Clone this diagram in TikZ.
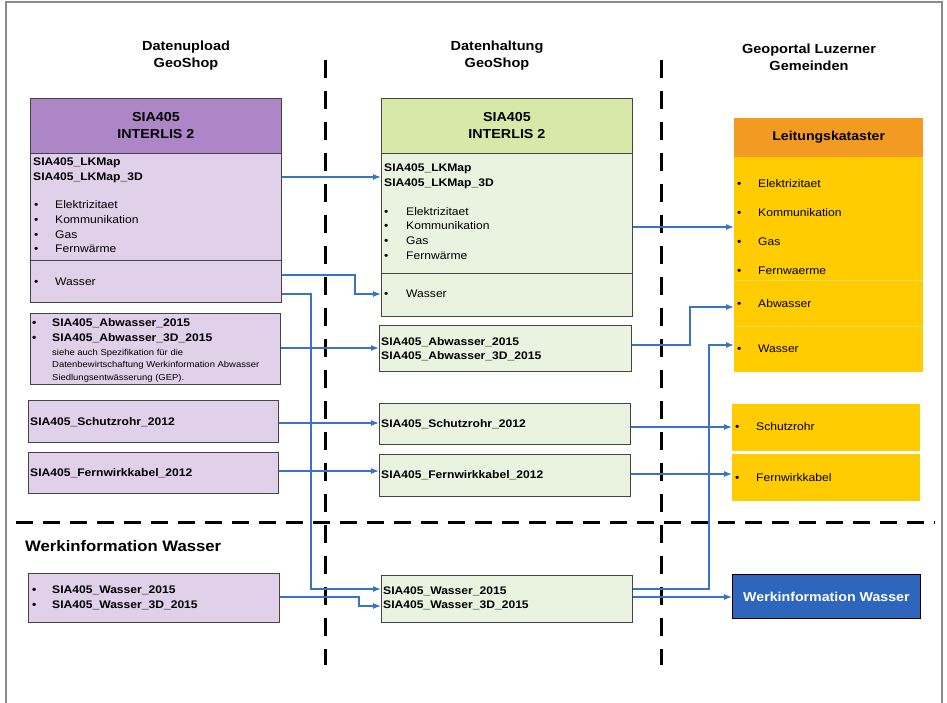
\documentclass[tikz,border=0pt]{standalone}
\usepackage{fontspec}
\setmainfont{Liberation Sans}[FakeStretch=1.1]
\usetikzlibrary{arrows.meta}
\definecolor{phead}{HTML}{AC86C6}
\definecolor{pbody}{HTML}{E0D0EA}
\definecolor{ghead}{HTML}{D8E8A8}
\definecolor{gbody}{HTML}{EAF2E0}
\definecolor{ohead}{HTML}{F39A22}
\definecolor{ybody}{HTML}{FFCC00}
\definecolor{ydiv}{HTML}{F8DA5A}
\definecolor{wblue}{HTML}{2E66BE}
\definecolor{arrblue}{HTML}{3A72C8}
\definecolor{bord}{HTML}{454545}
\definecolor{frame}{HTML}{8A8A8A}
\begin{document}
\begin{tikzpicture}[x=1pt,y=-1pt,
  box/.style={draw=bord, line width=0.8pt, inner sep=0pt, anchor=north west},
  ybox/.style={fill=ybody, inner sep=0pt, anchor=north west},
  t/.style={anchor=west, inner sep=0pt, text height=8pt, text depth=0pt},
  bi/.style={t, font=\fontsize{11}{13}\selectfont\bfseries},
  ri/.style={t, font=\fontsize{11}{13}\selectfont},
  sm/.style={t, font=\fontsize{8.6}{11}\selectfont},
  colhead/.style={align=center, inner sep=0pt, font=\fontsize{13.2}{17}\selectfont\bfseries},
  boxhead/.style={align=center, inner sep=0pt, font=\fontsize{13}{17}\selectfont\bfseries},
  arr/.style={draw=arrblue, line width=1.2pt, -{Latex[length=8pt,width=6pt]}},
  sep/.style={line width=3pt, black, dash pattern=on 18pt off 13pt},
  hsep/.style={line width=3pt, black, dash pattern=on 17pt off 10pt}]
\useasboundingbox (0,0) rectangle (947,703);
% frame
\draw[frame, line width=1.2pt] (6,703) -- (6,2) -- (942,2) -- (942,703);

% column headers
\node[colhead] (h1) at (186,56) {Datenupload\\GeoShop};
\node[colhead] (h2) at (497,56) {Datenhaltung\\GeoShop};
\node[colhead] (h3) at (809,57) {Geoportal Luzerner\\Gemeinden};

% ---------- left big box
\node[box, fill=phead, minimum width=251pt, minimum height=55pt] (lhead) at (30,98) {};
\node[box, fill=pbody, minimum width=251pt, minimum height=107pt] (lbody) at (30,153) {};
\node[box, fill=pbody, minimum width=251pt, minimum height=42pt] (lwas) at (30,260) {};
\node[boxhead] (lht) at (lhead.center) {SIA405\\INTERLIS 2};
\node[bi] (l1) at (33,162) {SIA405\_LKMap};
\node[bi] (l2) at (33,177) {SIA405\_LKMap\_3D};
\node[ri] (lb1) at (34,205) {•}; \node[ri] (lt1) at (55,205) {Elektrizitaet};
\node[ri] (lb2) at (34,220) {•}; \node[ri] (lt2) at (55,220) {Kommunikation};
\node[ri] (lb3) at (34,235) {•}; \node[ri] (lt3) at (55,235) {Gas};
\node[ri] (lb4) at (34,249) {•}; \node[ri] (lt4) at (55,249) {Fernwärme};
\node[ri] (lb5) at (34,281) {•}; \node[ri] (lt5) at (55,281) {Wasser};

% ---------- green big box
\node[box, fill=ghead, minimum width=251pt, minimum height=55pt] (ghd) at (381,98) {};
\node[box, fill=gbody, minimum width=251pt, minimum height=120pt] (gbd) at (381,153) {};
\node[box, fill=gbody, minimum width=251pt, minimum height=43pt] (gwas) at (381,273) {};
\node[boxhead] (ght) at (ghd.center) {SIA405\\INTERLIS 2};
\node[bi] (g1) at (384,168) {SIA405\_LKMap};
\node[bi] (g2) at (384,183) {SIA405\_LKMap\_3D};
\node[ri] (gb1) at (384,212) {•}; \node[ri] (gt1) at (406,212) {Elektrizitaet};
\node[ri] (gb2) at (384,226) {•}; \node[ri] (gt2) at (406,226) {Kommunikation};
\node[ri] (gb3) at (384,241) {•}; \node[ri] (gt3) at (406,241) {Gas};
\node[ri] (gb4) at (384,256) {•}; \node[ri] (gt4) at (406,256) {Fernwärme};
\node[ri] (gb5) at (384,294) {•}; \node[ri] (gt5) at (406,294) {Wasser};

% ---------- orange / yellow
\node[ybox, fill=ohead, minimum width=189pt, minimum height=39pt] (ohd) at (734,118) {};
\node[ybox, minimum width=189pt, minimum height=215pt] (obody) at (734,157) {};
\draw[ydiv, line width=0.8pt] (obody.west |- 0,280) -- (obody.east |- 0,280);
\draw[ydiv, line width=0.8pt] (obody.west |- 0,326) -- (obody.east |- 0,326);
\node[boxhead, font=\fontsize{12.8}{15}\selectfont\bfseries] (oht) at (ohd.center) {Leitungskataster};
\node[ri] (ob1) at (737,184) {•}; \node[ri] (ot1) at (758,184) {Elektrizitaet};
\node[ri] (ob2) at (737,213) {•}; \node[ri] (ot2) at (758,213) {Kommunikation};
\node[ri] (ob3) at (737,242) {•}; \node[ri] (ot3) at (758,242) {Gas};
\node[ri] (ob4) at (737,270) {•}; \node[ri] (ot4) at (758,270) {Fernwaerme};
\node[ri] (ob5) at (737,303) {•}; \node[ri] (ot5) at (758,303) {Abwasser};
\node[ri] (ob6) at (737,348) {•}; \node[ri] (ot6) at (758,348) {Wasser};
\node[ybox, minimum width=188pt, minimum height=47pt] (osch) at (732,404) {};
\node[ri] (ob7) at (735,426) {•}; \node[ri] (ot7) at (756,426) {Schutzrohr};
\node[ybox, minimum width=188pt, minimum height=47pt] (ofern) at (732,454) {};
\node[ri] (ob8) at (735,477) {•}; \node[ri] (ot8) at (756,477) {Fernwirkkabel};
\node[box, draw=black, fill=wblue, minimum width=188pt, minimum height=44pt] (blue) at (732,574) {};
\node[text=white, inner sep=0pt, font=\fontsize{12.9}{15}\selectfont\bfseries] (bluet) at (blue.center) {Werkinformation Wasser};

% ---------- left small boxes
\node[box, fill=pbody, minimum width=250pt, minimum height=71pt] (labw) at (30,313) {};
\node[bi] (la0) at (32,322) {•}; \node[bi] (la1) at (52,322) {SIA405\_Abwasser\_2015};
\node[bi] (la2b) at (32,337) {•}; \node[bi] (la2) at (52,337) {SIA405\_Abwasser\_3D\_2015};
\node[sm] (ls1) at (52,351) {siehe auch Spezifikation für die};
\node[sm] (ls2) at (52,363) {Datenbewirtschaftung Werkinformation Abwasser};
\node[sm] (ls3) at (52,376) {Siedlungsentwässerung (GEP).};
\node[box, fill=pbody, minimum width=250pt, minimum height=42pt] (lsch) at (28,400) {};
\node[bi] (lsct) at (30,421) {SIA405\_Schutzrohr\_2012};
\node[box, fill=pbody, minimum width=250pt, minimum height=41pt] (lfern) at (28,452) {};
\node[bi] (lfet) at (30,472) {SIA405\_Fernwirkkabel\_2012};

% ---------- green small boxes
\node[box, fill=gbody, minimum width=252pt, minimum height=46pt] (gabw) at (379,325) {};
\node[bi] (ga1) at (381,341) {SIA405\_Abwasser\_2015};
\node[bi] (ga2) at (381,355) {SIA405\_Abwasser\_3D\_2015};
\node[box, fill=gbody, minimum width=251pt, minimum height=41pt] (gsch) at (379,403) {};
\node[bi] (gsct) at (381,423) {SIA405\_Schutzrohr\_2012};
\node[box, fill=gbody, minimum width=251pt, minimum height=42pt] (gfern) at (379,454) {};
\node[bi] (gfet) at (381,474) {SIA405\_Fernwirkkabel\_2012};

% ---------- Werkinformation Wasser section
\node[t, font=\fontsize{15.2}{18}\selectfont\bfseries, text height=11pt] (wtitle) at (25,546) {Werkinformation Wasser};
\node[box, fill=pbody, minimum width=251pt, minimum height=49pt] (lwass) at (28,573) {};
\node[bi] (lw0) at (32,589) {•}; \node[bi] (lw1) at (52,589) {SIA405\_Wasser\_2015};
\node[bi] (lw2b) at (32,604) {•}; \node[bi] (lw2) at (52,604) {SIA405\_Wasser\_3D\_2015};
\node[box, fill=gbody, minimum width=251pt, minimum height=47pt] (gwass) at (381,575) {};
\node[bi] (gw1) at (383,590) {SIA405\_Wasser\_2015};
\node[bi] (gw2) at (383,604) {SIA405\_Wasser\_3D\_2015};

% ---------- separators
\draw[sep] (325,60) -- (325,665);
\draw[sep] (661,60) -- (661,665);
\draw[hsep] (16,522) -- (935,522);

% ---------- arrows left -> middle
\draw[arr] (lbody.east |- 0,177) -- (gbd.west |- 0,177);
\draw[arr] (lwas.east |- 0,275) -| (355,294) -- (gwas.west |- 0,294);
\draw[arr] (lwas.east |- 0,294) -| (311,589) -- (gwass.west |- 0,589);
\draw[arr] (labw.east |- 0,348) -- (gabw.west |- 0,348);
\draw[arr] (lsch.east |- 0,423) -- (gsch.west |- 0,423);
\draw[arr] (lfern.east |- 0,471) -- (gfern.west |- 0,471);
\draw[arr] (lwass.east |- 0,597) -| (359,606) -- (gwass.west |- 0,606);

% ---------- arrows middle -> right
\draw[arr] (gbd.east |- 0,227) -- (obody.west |- 0,227);
\draw[arr] (gabw.east |- 0,345) -| (690,307) -- (obody.west |- 0,307);
\draw[arr] (gsch.east |- 0,427) -- (osch.west |- 0,427);
\draw[arr] (gfern.east |- 0,474) -- (ofern.west |- 0,474);
\draw[arr] (gwass.east |- 0,589) -| (709,345) -- (obody.west |- 0,345);
\draw[arr] (gwass.east |- 0,597) -- (blue.west |- 0,597);
\end{tikzpicture}
\end{document}
